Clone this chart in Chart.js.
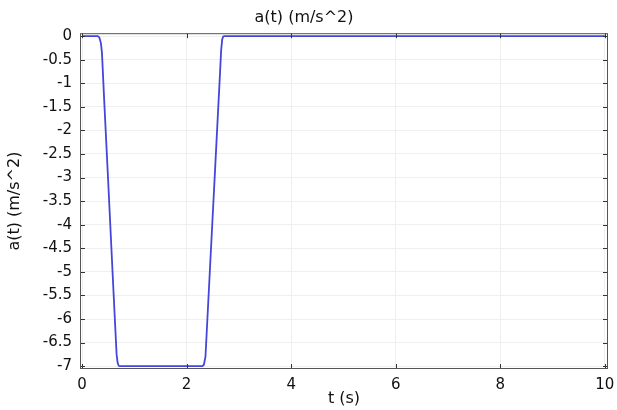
<!DOCTYPE html>
<html>
<head>
<meta charset="utf-8">
<script src="https://cdn.jsdelivr.net/npm/chart.js@4/dist/chart.umd.min.js"></script>
<style>
  html, body { margin: 0; padding: 0; background: #fff; }
  #wrap { width: 617px; height: 410px; }
</style>
</head>
<body>
<div id="wrap"><canvas id="accChart" width="617" height="410"></canvas></div>
<script>
// time (s) and acceleration (m/s^2)
var times = [0, 0.3, 0.33, 0.36, 0.38, 0.42, 0.5, 0.6, 0.66, 0.68, 0.7, 0.72,
             2.3, 2.33, 2.36, 2.45, 2.55, 2.64, 2.66, 2.68, 2.7, 2.72, 10];
var accel = [0, 0, -0.03, -0.15, -0.35, -1.3, -3.1, -5.4, -6.75, -6.93, -6.99, -7,
             -7, -6.97, -6.8, -4.85, -2.7, -0.75, -0.3, -0.07, -0.01, 0, 0];

var xTicks = [0, 2, 4, 6, 8, 10];
var yTicks = [0, -0.5, -1, -1.5, -2, -2.5, -3, -3.5, -4, -4.5, -5, -5.5, -6, -6.5, -7];

var points = times.map(function (t, i) { return { x: t, y: accel[i] }; });

// small inward ticks on all four sides, like the original plot frame
var innerTicks = {
    id: 'innerTicks',
    afterDraw: function (chart) {
        var c = chart.ctx, a = chart.chartArea;
        var xs = chart.scales.x, ys = chart.scales.y;
        c.save();
        c.strokeStyle = '#333';
        c.lineWidth = 1;
        c.beginPath();
        xTicks.forEach(function (v) {
            var px = Math.round(xs.getPixelForValue(v)) + 0.5;
            c.moveTo(px, a.bottom); c.lineTo(px, a.bottom - 5);
            c.moveTo(px, a.top); c.lineTo(px, a.top + 5);
        });
        yTicks.forEach(function (v) {
            var py = Math.round(ys.getPixelForValue(v)) + 0.5;
            c.moveTo(a.left, py); c.lineTo(a.left + 5, py);
            c.moveTo(a.right, py); c.lineTo(a.right - 5, py);
        });
        c.stroke();
        c.strokeStyle = '#555';
        c.strokeRect(a.left + 0.5, a.top + 0.5, a.right - a.left - 1, a.bottom - a.top - 1);
        c.restore();
    }
};

Chart.defaults.font.family = 'DejaVu Sans, Verdana, sans-serif';
Chart.defaults.color = '#111';

function plain(v) { return String(v); }

var ctx = document.getElementById('accChart').getContext('2d');
var accChart = new Chart(ctx, {
    type: 'line',
    data: {
        datasets: [{
            data: points,
            borderColor: '#4545da',
            borderWidth: 1.8,
            pointRadius: 0,
            tension: 0,
            fill: false
        }]
    },
    options: {
        responsive: false,
        animation: false,
        layout: { padding: { left: 0, right: 9, top: 0, bottom: 0 } },
        plugins: {
            legend: { display: false },
            tooltip: { enabled: false },
            title: {
                display: true,
                text: 'a(t) (m/s^2)',
                font: { size: 16, weight: 'normal' },
                padding: { top: 8, bottom: 6 }
            }
        },
        scales: {
            x: {
                type: 'linear',
                min: -0.04,
                max: 10.06,
                afterBuildTicks: function (s) { s.ticks = xTicks.map(function (v) { return { value: v }; }); },
                afterFit: function (s) { s.height = 41; s.paddingRight = 0; s.paddingLeft = 0; },
                grid: { color: '#efefef', drawTicks: false },
                border: { display: false },
                ticks: { font: { size: 15 }, padding: 7, maxRotation: 0, callback: plain },
                title: { display: true, text: 't (s)', font: { size: 16 }, padding: { top: 0, bottom: 2 } }
            },
            y: {
                min: -7.06,
                max: 0.06,
                afterBuildTicks: function (s) { s.ticks = yTicks.map(function (v) { return { value: v }; }); },
                afterFit: function (s) { s.width = 80; s.paddingTop = 0; s.paddingBottom = 0; },
                grid: { color: '#efefef', drawTicks: false },
                border: { display: false },
                ticks: { font: { size: 15 }, padding: 8, callback: plain },
                title: { display: true, text: 'a(t) (m/s^2)', font: { size: 16 }, padding: { top: 5, bottom: 0 } }
            }
        }
    },
    plugins: [innerTicks]
});
</script>
</body>
</html>
